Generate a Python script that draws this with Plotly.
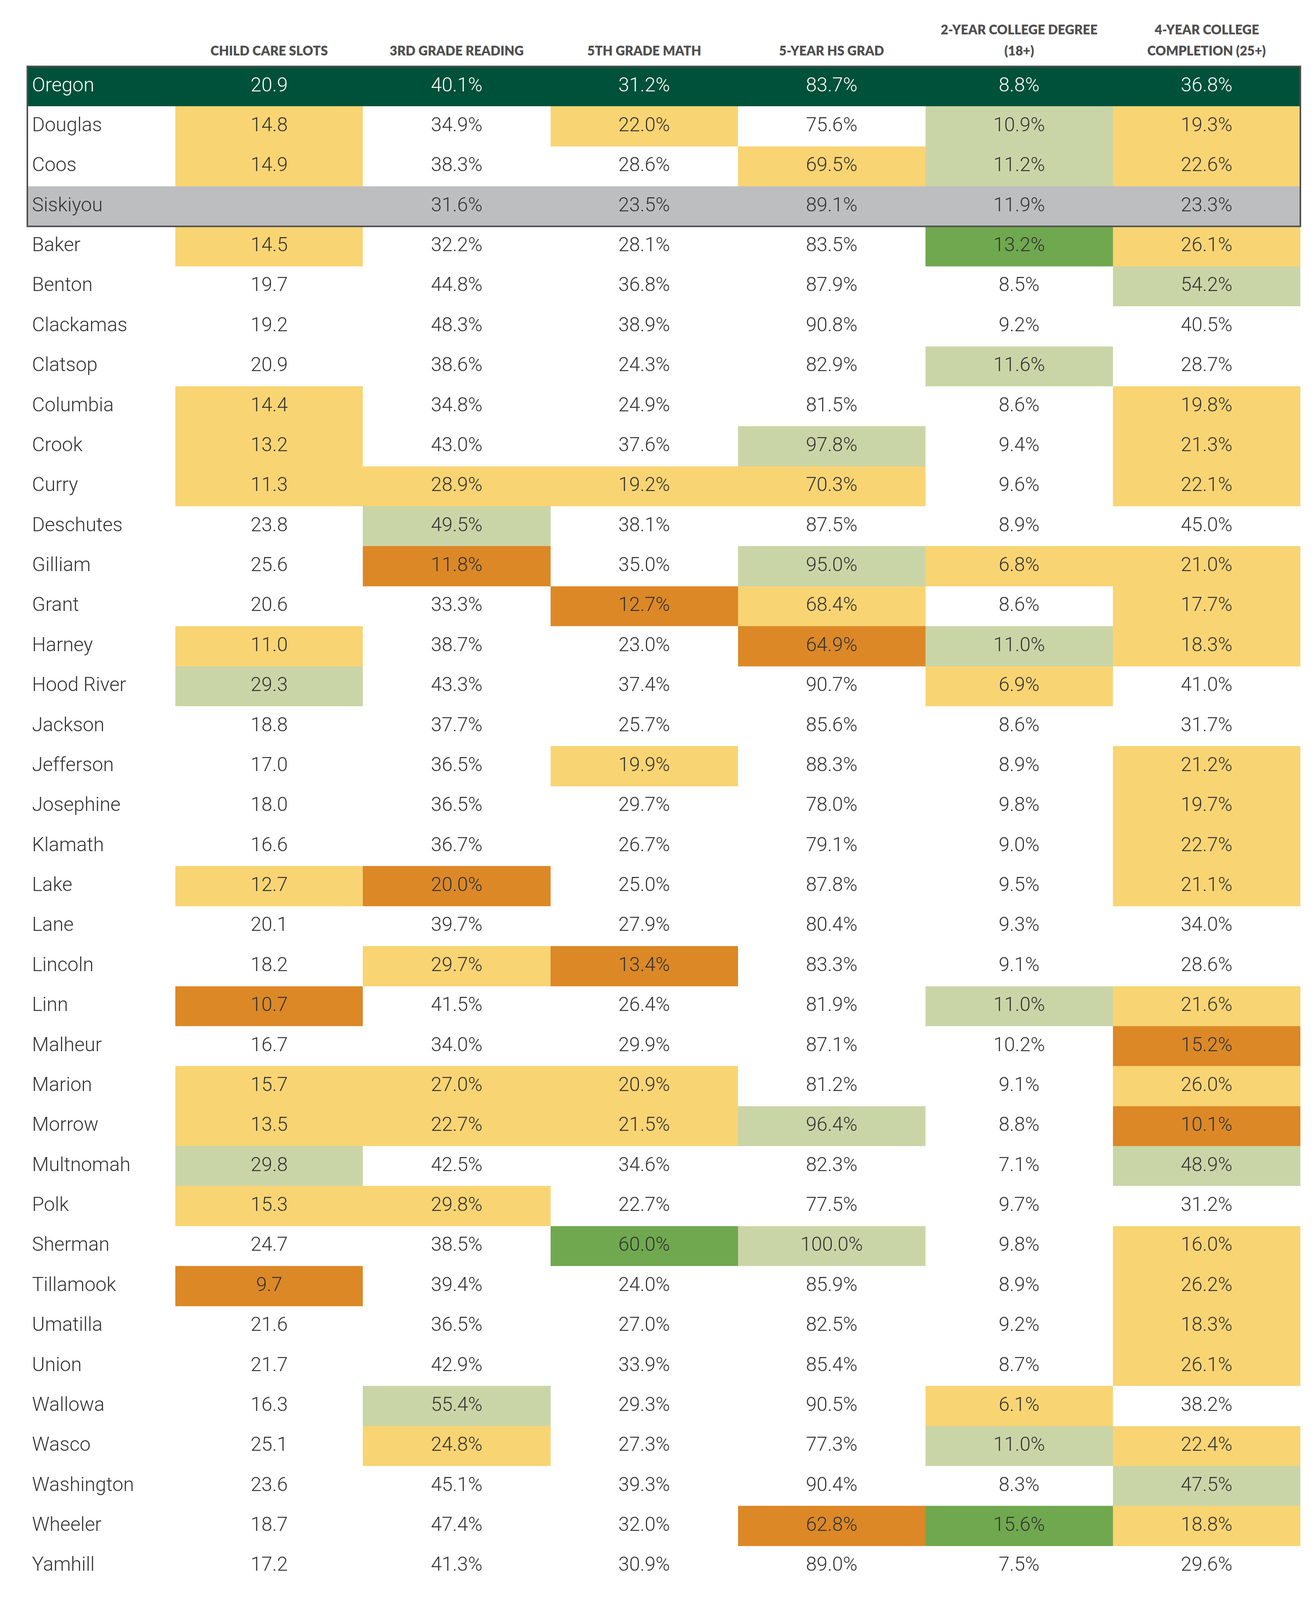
import plotly.graph_objects as go

# ------------------------------------------------------------
# Datos: indicadores por condado (Oregon + comparación)
# ------------------------------------------------------------

counties = [
    "Oregon", "Douglas", "Coos", "Siskiyou", "Baker", "Benton", "Clackamas",
    "Clatsop", "Columbia", "Crook", "Curry", "Deschutes", "Gilliam", "Grant",
    "Harney", "Hood River", "Jackson", "Jefferson", "Josephine", "Klamath",
    "Lake", "Lane", "Lincoln", "Linn", "Malheur", "Marion", "Morrow",
    "Multnomah", "Polk", "Sherman", "Tillamook", "Umatilla", "Union",
    "Wallowa", "Wasco", "Washington", "Wheeler", "Yamhill",
]

headers = [
    "CHILD CARE SLOTS",
    "3RD GRADE READING",
    "5TH GRADE MATH",
    "5-YEAR HS GRAD",
    "2-YEAR COLLEGE DEGREE\n(18+)",
    "4-YEAR COLLEGE\nCOMPLETION (25+)",
]

child_care = [
    20.9, 14.8, 14.9, None, 14.5, 19.7, 19.2, 20.9, 14.4, 13.2, 11.3, 23.8,
    25.6, 20.6, 11.0, 29.3, 18.8, 17.0, 18.0, 16.6, 12.7, 20.1, 18.2, 10.7,
    16.7, 15.7, 13.5, 29.8, 15.3, 24.7, 9.7, 21.6, 21.7, 16.3, 25.1, 23.6,
    18.7, 17.2,
]
reading_3rd = [
    40.1, 34.9, 38.3, 31.6, 32.2, 44.8, 48.3, 38.6, 34.8, 43.0, 28.9, 49.5,
    11.8, 33.3, 38.7, 43.3, 37.7, 36.5, 36.5, 36.7, 20.0, 39.7, 29.7, 41.5,
    34.0, 27.0, 22.7, 42.5, 29.8, 38.5, 39.4, 36.5, 42.9, 55.4, 24.8, 45.1,
    47.4, 41.3,
]
math_5th = [
    31.2, 22.0, 28.6, 23.5, 28.1, 36.8, 38.9, 24.3, 24.9, 37.6, 19.2, 38.1,
    35.0, 12.7, 23.0, 37.4, 25.7, 19.9, 29.7, 26.7, 25.0, 27.9, 13.4, 26.4,
    29.9, 20.9, 21.5, 34.6, 22.7, 60.0, 24.0, 27.0, 33.9, 29.3, 27.3, 39.3,
    32.0, 30.9,
]
hs_grad_5yr = [
    83.7, 75.6, 69.5, 89.1, 83.5, 87.9, 90.8, 82.9, 81.5, 97.8, 70.3, 87.5,
    95.0, 68.4, 64.9, 90.7, 85.6, 88.3, 78.0, 79.1, 87.8, 80.4, 83.3, 81.9,
    87.1, 81.2, 96.4, 82.3, 77.5, 100.0, 85.9, 82.5, 85.4, 90.5, 77.3, 90.4,
    62.8, 89.0,
]
college_2yr = [
    8.8, 10.9, 11.2, 11.9, 13.2, 8.5, 9.2, 11.6, 8.6, 9.4, 9.6, 8.9,
    6.8, 8.6, 11.0, 6.9, 8.6, 8.9, 9.8, 9.0, 9.5, 9.3, 9.1, 11.0,
    10.2, 9.1, 8.8, 7.1, 9.7, 9.8, 8.9, 9.2, 8.7, 6.1, 11.0, 8.3,
    15.6, 7.5,
]
college_4yr = [
    36.8, 19.3, 22.6, 23.3, 26.1, 54.2, 40.5, 28.7, 19.8, 21.3, 22.1, 45.0,
    21.0, 17.7, 18.3, 41.0, 31.7, 21.2, 19.7, 22.7, 21.1, 34.0, 28.6, 21.6,
    15.2, 26.0, 10.1, 48.9, 31.2, 16.0, 26.2, 18.3, 26.1, 38.2, 22.4, 47.5,
    18.8, 29.6,
]

# Nivel de cada celda: W normal, Y bajo, O muy bajo, L alto, G muy alto
tiers = [
    "------", "YWYWLY", "YWWYLY", "------", "YWWWGY", "WWWWWL", "WWWWWW",
    "WWWWLW", "YWWWWY", "YWWLWY", "YYYYWY", "WLWWWW", "WOWLYY", "WWOYWY",
    "YWWOLY", "LWWWYW", "WWWWWW", "WWYWWY", "WWWWWY", "WWWWWY", "YOWWWY",
    "WWWWWW", "WYOWWW", "OWWWLY", "WWWWWO", "YYYWWY", "YYYLWO", "LWWWWL",
    "YYWWWW", "WWGLWY", "OWWWWY", "WWWWWY", "WWWWWY", "WLWWYW", "WYWWLY",
    "WWWWWL", "WWWOGY", "WWWWWW",
]

state_row = "Oregon"
peer_row = "Siskiyou"
boxed_rows = ["Oregon", "Douglas", "Coos", "Siskiyou"]

# ------------------------------------------------------------
# Estilo
# ------------------------------------------------------------

tier_colors = {
    "W": "#ffffff",
    "Y": "#f9d473",
    "O": "#dc8827",
    "L": "#cad5a7",
    "G": "#70a84f",
    "state": "#00513a",
    "peer": "#bdbec0",
}
code_order = ["W", "Y", "O", "L", "G", "state", "peer"]
colorscale = [[i / (len(code_order) - 1), tier_colors[c]] for i, c in enumerate(code_order)]

columns = [child_care, reading_3rd, math_5th, hs_grad_5yr, college_2yr, college_4yr]
LABEL_W = 0.79
x_edges = [-0.5 - LABEL_W] + [i - 0.5 for i in range(len(columns) + 1)]

FONT = "Roboto"
HEAD_FONT = "Lato"
TEXT_COLOR = "#333333"

# matriz de códigos de color (columna 0 = nombre del condado)
z = []
for county, tier in zip(counties, tiers):
    if county == state_row:
        z.append([code_order.index("state")] * (len(columns) + 1))
    elif county == peer_row:
        z.append([code_order.index("peer")] * (len(columns) + 1))
    else:
        z.append([0] + [code_order.index(t) for t in tier])

# textos de las celdas
cell_x, cell_y, cell_text, cell_color = [], [], [], []
for j, col in enumerate(columns):
    for i, v in enumerate(col):
        if v is None:
            continue
        cell_x.append(j)
        cell_y.append(counties[i])
        cell_text.append(f"{v:.1f}" if j == 0 else f"{v:.1f}%")
        cell_color.append("#ffffff" if counties[i] == state_row else TEXT_COLOR)

fig = go.Figure()

fig.add_trace(
    go.Heatmap(
        z=z,
        x=x_edges,
        y=counties,
        colorscale=colorscale,
        zmin=0,
        zmax=len(code_order) - 1,
        showscale=False,
        xgap=0,
        ygap=0,
        hoverinfo="skip",
    )
)

fig.add_trace(
    go.Scatter(
        x=cell_x,
        y=cell_y,
        mode="text",
        text=cell_text,
        textposition="middle center",
        textfont=dict(family=FONT, size=50, color=cell_color, weight=300),
        hoverinfo="skip",
        showlegend=False,
    )
)

fig.add_trace(
    go.Scatter(
        x=[x_edges[0] + 0.025] * len(counties),
        y=counties,
        mode="text",
        text=counties,
        textposition="middle right",
        textfont=dict(
            family=FONT,
            size=50,
            color=["#ffffff" if c == state_row else TEXT_COLOR for c in counties],
            weight=300,
        ),
        hoverinfo="skip",
        showlegend=False,
    )
)

# encabezados (una o dos líneas, alineados abajo)
for j, h in enumerate(headers):
    lines = h.split("\n")
    for k, line in enumerate(reversed(lines)):
        fig.add_annotation(
            x=j,
            y=1,
            xref="x",
            yref="paper",
            text=line,
            showarrow=False,
            xanchor="center",
            yanchor="middle",
            yshift=38 + 55 * k,
            font=dict(family=HEAD_FONT, size=33, color="#505050", weight=800),
        )

# recuadro de Oregon y condados de comparación
fig.add_shape(
    type="rect",
    xref="x",
    yref="y",
    x0=x_edges[0],
    x1=x_edges[-1],
    y0=-0.5,
    y1=len(boxed_rows) - 0.5,
    line=dict(color="#4f4f4f", width=4),
    fillcolor="rgba(0,0,0,0)",
    layer="above",
)

eps_x = 4 / 480.2
eps_y = 4 / 104.2

fig.update_xaxes(
    range=[x_edges[0] - eps_x, x_edges[-1] + eps_x],
    visible=False,
    fixedrange=True,
)
fig.update_yaxes(
    range=[len(counties) - 0.5 + eps_y, -0.5 - eps_y],
    visible=False,
    fixedrange=True,
)

W, H = 3370, 4170
fig.update_layout(
    width=W,
    height=H,
    margin=dict(l=66, r=36, t=169, b=33),
    paper_bgcolor="#ffffff",
    plot_bgcolor="#ffffff",
    showlegend=False,
)

# Ajuste a la ventana real: si el área visible es menor que la figura,
# se reescala la figura (márgenes incluidos) para que no se corte.
ajuste_ventana = f"""
var gd = document.getElementById('{{plot_id}}');
document.body.style.margin = '0';
document.body.style.overflow = 'hidden';
var vw = window.innerWidth, vh = window.innerHeight;
if (vw > 0 && vh > 0 && (vw !== {W} || vh !== {H})) {{
  var sx = vw / {W}, sy = vh / {H};
  var upd = {{
    width: vw, height: vh,
    'margin.l': 66 * sx, 'margin.r': 36 * sx,
    'margin.t': 169 * sy, 'margin.b': 33 * sy
  }};
  (gd.layout.annotations || []).forEach(function (a, i) {{
    upd['annotations[' + i + '].yshift'] = a.yshift * sy;
  }});
  Plotly.relayout(gd, upd);
}}
"""

fig.write_html(
    "out.html",
    config={"displayModeBar": False},
    post_script=ajuste_ventana,
)
